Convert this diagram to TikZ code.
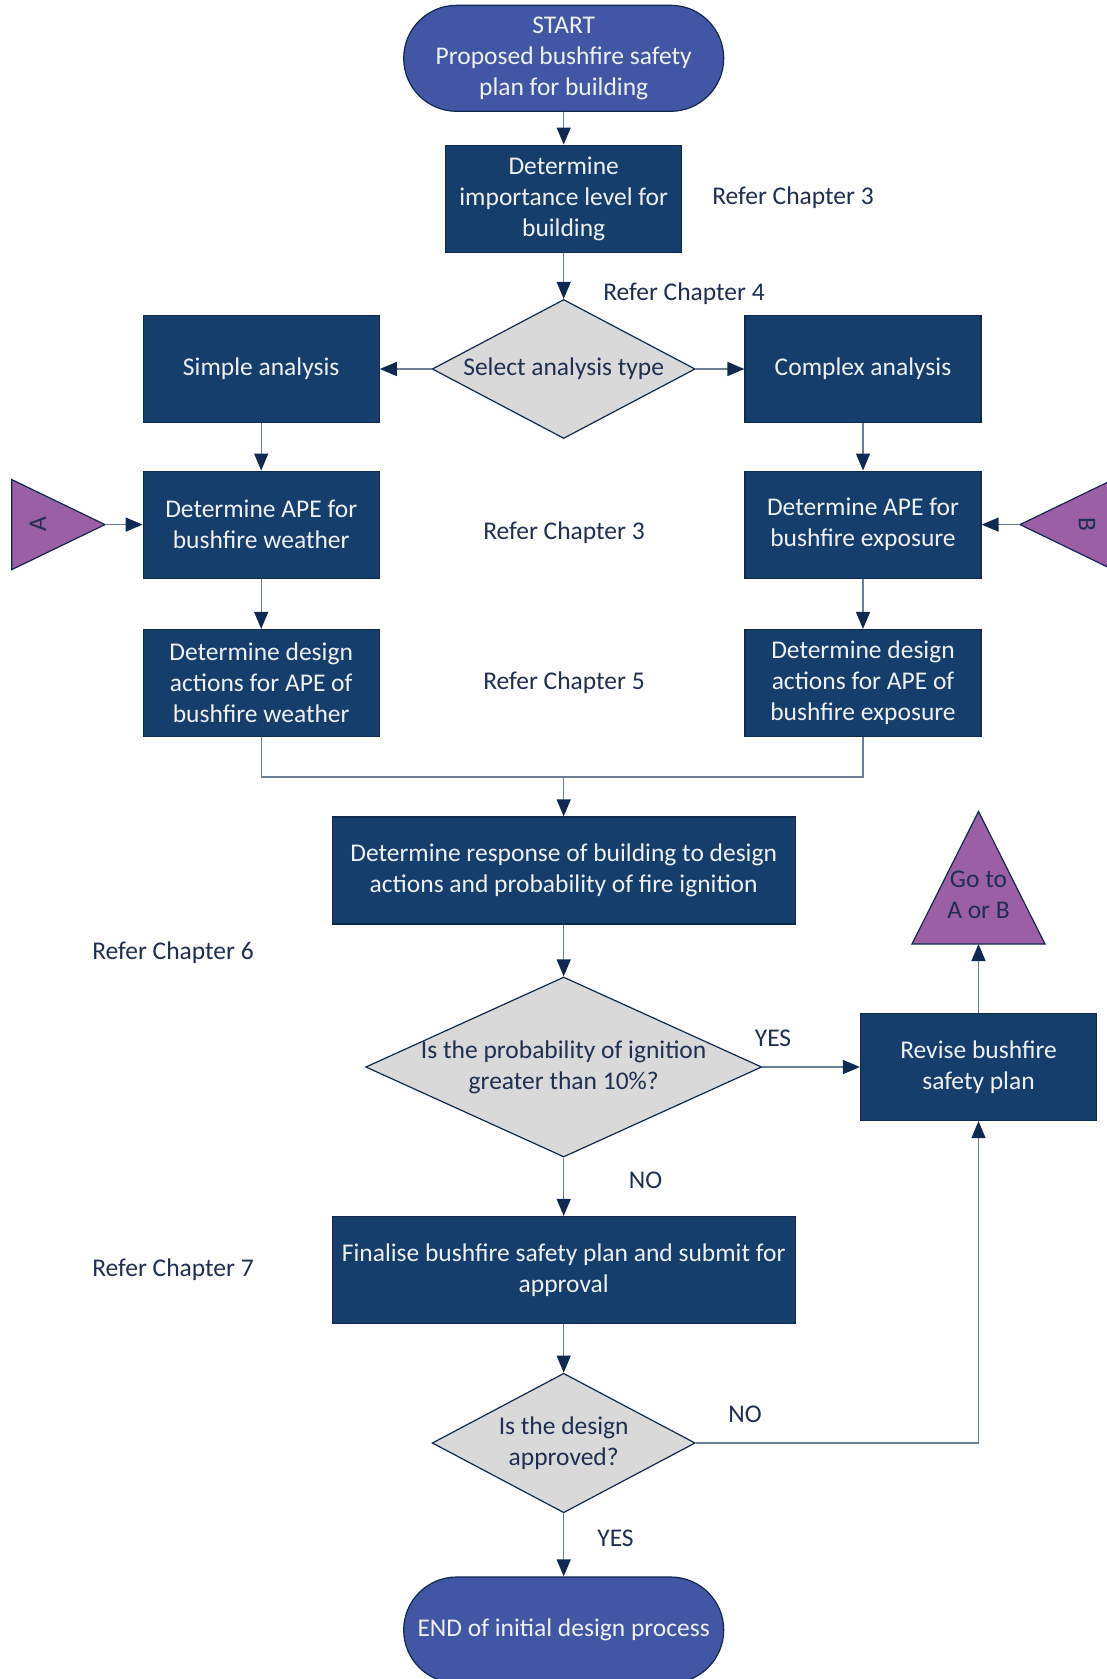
\documentclass[tikz,border=0pt]{standalone}
\usepackage{fontspec}
\setmainfont{Carlito}
\usetikzlibrary{shapes.geometric,arrows.meta}
\definecolor{navy}{HTML}{153E6C}
\definecolor{startblue}{HTML}{4256A6}
\definecolor{edgeline}{HTML}{0E2A50}
\definecolor{linec}{HTML}{6A7D99}
\definecolor{diagray}{HTML}{D9D9D9}
\definecolor{purp}{HTML}{9B5FA5}
\definecolor{txtnavy}{HTML}{1E2F52}
\definecolor{boxtxt}{HTML}{EEF0F4}
\begin{document}
\begin{tikzpicture}[x=1pt,y=-1pt,
  font=\fontsize{25.5}{31}\selectfont,
  proc/.style={rectangle, draw=edgeline, line width=1.2pt, fill=navy, text=boxtxt,
    align=center, minimum width=236pt, minimum height=107pt, inner sep=2pt},
  wideproc/.style={proc, minimum width=463pt},
  term/.style={rectangle, rounded corners=53pt, draw=edgeline, line width=1.2pt,
    fill=startblue, text=boxtxt, align=center, minimum width=320pt, minimum height=106pt, inner sep=2pt},
  decide/.style={diamond, draw=edgeline, line width=1.2pt, fill=diagray, inner sep=0pt},
  dtext/.style={text=txtnavy, align=center, inner sep=0pt},
  note/.style={text=txtnavy, inner sep=0pt},
  conn/.style={rectangle, draw=edgeline, line width=1.2pt, fill=purp},
  plain/.style={draw=linec, line width=1.3pt},
  arr/.style={plain, -{Triangle[length=17pt,width=14pt,color=edgeline]}}
]
\fill[white] (0,0) rectangle (1107,1679);
\useasboundingbox (0,0) rectangle (1107,1679);

% nodes
\node[term] (start) at (563.7,58.3) {START\\Proposed bushfire safety\\plan for building};
\node[proc] (imp) at (563.7,198.6) {Determine\\importance level for\\building};
\node[note] (r3a) at (793,198) {Refer Chapter 3};
\node[note] (r4) at (684,294) {Refer Chapter 4};

\node[decide, minimum width=263pt, minimum height=139pt] (sel) at (563.7,369) {};
\node[dtext] (selt) at (sel.center) {Select analysis type};

\node[proc] (simple) at (261.2,369) {Simple analysis};
\node[proc] (complex) at (863,369) {Complex analysis};

\node[proc] (apeW) at (261.2,524.6) {Determine APE for\\bushfire weather};
\node[proc] (apeE) at (863,524.6) {Determine APE for\\bushfire exposure};
\node[note] (r3b) at (564,533) {Refer Chapter 3};

\node[proc] (desW) at (261.2,683) {Determine design\\actions for APE of\\bushfire weather};
\node[proc] (desE) at (863,683) {Determine design\\actions for APE of\\bushfire exposure};
\node[note] (r5) at (564,683) {Refer Chapter 5};

% connectors A and B (triangles)
\draw[edgeline, line width=1.2pt, fill=purp] (11.8,479.6) -- (105,524.6) -- (11.8,569.6) -- cycle;
\coordinate (Atip) at (105,524.6);
\node[text=txtnavy, rotate=90] (Alab) at (38,524.6) {A};
\draw[edgeline, line width=1.2pt, fill=purp] (1113,479.6) -- (1020,524.6) -- (1113,569.6) -- cycle;
\coordinate (Btip) at (1020,524.6);
\node[text=txtnavy, rotate=-90] (Blab) at (1087,524.6) {B};

\coordinate (merge) at (563.7,777);
\node[wideproc] (resp) at (563.7,870.5) {Determine response of building to design\\actions and probability of fire ignition};
\node[note] (r6) at (173,953) {Refer Chapter 6};

\node[decide, minimum width=396pt, minimum height=180pt] (q1) at (563.7,1067) {};
\node[dtext] (q1t) at (q1.center) {Is the probability of ignition\\greater than 10\%?};
\node[note] (yes1) at (773,1038.5) {YES};
\node[proc] (revise) at (978.5,1067) {Revise bushfire\\safety plan};

\draw[edgeline, line width=1.2pt, fill=purp] (978.5,811.5) -- (1045,944) -- (912,944) -- cycle;
\coordinate (gotoB) at (978.5,944);
\node[dtext] (gotot) at (978.5,895) {Go to\\A or B};

\node[note] (no1) at (645.5,1180) {NO};
\node[wideproc] (final) at (563.7,1270) {Finalise bushfire safety plan and submit for\\approval};
\node[note] (r7) at (173,1270) {Refer Chapter 7};

\node[decide, minimum width=263pt, minimum height=139.5pt] (q2) at (563.7,1443) {};
\node[dtext] (q2t) at (q2.center) {Is the design\\approved?};
\node[note] (no2) at (745,1414) {NO};
\node[note] (yes2) at (615.5,1538.5) {YES};

\node[term] (end) at (563.7,1630) {END of initial design process};

% edges
\draw[arr] (start) -- (imp);
\draw[arr] (imp) -- (sel);
\draw[arr] (sel) -- (simple);
\draw[arr] (sel) -- (complex);
\draw[arr] (simple) -- (apeW);
\draw[arr] (complex) -- (apeE);
\draw[arr] (Atip) -- (apeW);
\draw[arr] (Btip) -- (apeE);
\draw[arr] (apeW) -- (desW);
\draw[arr] (apeE) -- (desE);
\draw[plain] (desW.south) |- (merge);
\draw[plain] (desE.south) |- (merge);
\draw[arr] (merge) -- (resp);
\draw[arr] (resp) -- (q1);
\draw[arr] (q1) -- (revise);
\draw[arr] (revise) -- (gotoB);
\draw[arr] (q1) -- (final);
\draw[arr] (final) -- (q2);
\draw[arr] (q2.east) -| (revise.south);
\draw[arr] (q2) -- (end);
\end{tikzpicture}
\end{document}
